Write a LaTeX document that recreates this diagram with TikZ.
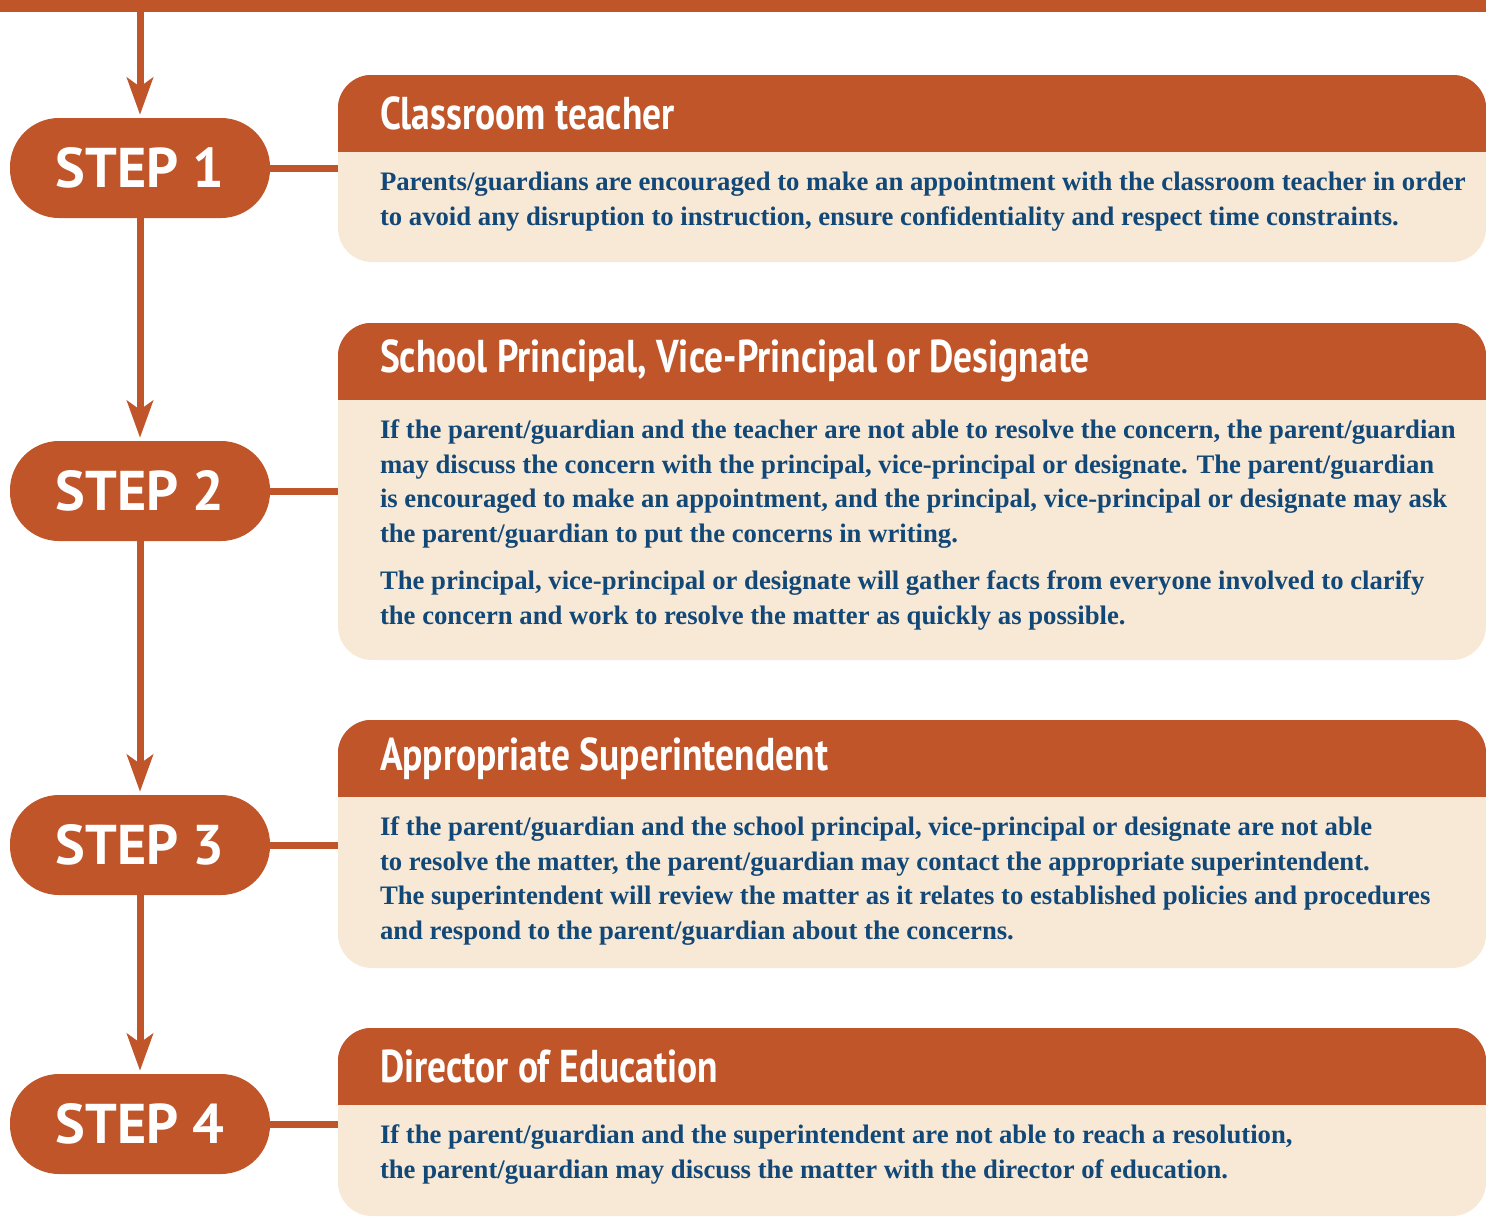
\documentclass[tikz,border=0pt]{standalone}
\usepackage{fontspec}
\setmainfont{Liberation Serif}
\newfontfamily\stepfont{PT Sans}
\newfontfamily\headfont[FakeStretch=0.815]{PT Sans}
\usetikzlibrary{arrows.meta}
\definecolor{rust}{RGB}{193,85,42}
\definecolor{cream}{RGB}{248,233,214}
\definecolor{ink}{RGB}{18,72,120}
\tikzset{
  stepbox/.style={fill=rust, text=white, rounded corners=49pt, minimum width=260pt,
    minimum height=100pt, inner sep=0pt, font=\stepfont\bfseries\fontsize{56}{56}\selectfont},
  panel/.style={fill=cream, rounded corners=34pt, minimum width=1148pt, inner sep=0pt},
  headtext/.style={anchor=west, text=white, inner sep=0pt,
    font=\headfont\bfseries\fontsize{46}{46}\selectfont},
  bodytext/.style={anchor=north west, text=ink, inner sep=0pt, align=left,
    font=\bfseries\fontsize{26.7}{34.5}\selectfont},
  flow/.style={draw=rust, line width=7pt},
  tip/.style={-{Stealth[length=37pt,width=26pt,inset=9pt]}, shorten >=3pt}
}
\begin{document}
\begin{tikzpicture}[x=1pt,y=-1pt]
\useasboundingbox (0,0) rectangle (1486,1216);
\fill[rust] (0,0) rectangle (1486,12);
\coordinate (top) at (140,12);
%
\node[stepbox] (s1) at (140,168) {STEP 1};
\node[stepbox] (s2) at (140,491) {STEP 2};
\node[stepbox] (s3) at (140,845) {STEP 3};
\node[stepbox] (s4) at (140,1124) {STEP 4};
%
\node[panel, minimum height=187pt] (b1) at (912,168.5) {};
\node[panel, minimum height=337pt] (b2) at (912,491.5) {};
\node[panel, minimum height=248pt] (b3) at (912,844) {};
\node[panel, minimum height=188pt] (b4) at (912,1122) {};
%
\foreach \b in {b1,b2,b3,b4} {
  \begin{scope}
    \clip[rounded corners=34pt] (\b.south west) rectangle (\b.north east);
    \fill[rust] (\b.north west) rectangle ([yshift=-77pt]\b.north east);
  \end{scope}
}
%
\node[headtext] (h1) at ([xshift=42pt,yshift=-38.5pt]b1.north west) {Classroom teacher};
\node[headtext] (h2) at ([xshift=42pt,yshift=-38.5pt]b2.north west) {School Principal, Vice-Principal or Designate};
\node[headtext] (h3) at ([xshift=42pt,yshift=-38.5pt]b3.north west) {Appropriate Superintendent};
\node[headtext] (h4) at ([xshift=42pt,yshift=-38.5pt]b4.north west) {Director of Education};
%
\node[bodytext] (t1) at ([xshift=42pt,yshift=-97pt]b1.north west) {Parents/guardians are encouraged to make an appointment with the classroom teacher in order\\
to avoid any disruption to instruction, ensure confidentiality and respect time constraints.};
\node[bodytext] (t2) at ([xshift=42pt,yshift=-97pt]b2.north west) {If the parent/guardian and the teacher are not able to resolve the concern, the parent/guardian\\
may discuss the concern with the principal, vice-principal or designate. The parent/guardian\\
is encouraged to make an appointment, and the principal, vice-principal or designate may ask\\
the parent/guardian to put the concerns in writing.\\[13pt]
The principal, vice-principal or designate will gather facts from everyone involved to clarify\\
the concern and work to resolve the matter as quickly as possible.};
\node[bodytext] (t3) at ([xshift=42pt,yshift=-97pt]b3.north west) {If the parent/guardian and the school principal, vice-principal or designate are not able\\
to resolve the matter, the parent/guardian may contact the appropriate superintendent.\\
The superintendent will review the matter as it relates to established policies and procedures\\
and respond to the parent/guardian about the concerns.};
\node[bodytext] (t4) at ([xshift=42pt,yshift=-97pt]b4.north west) {If the parent/guardian and the superintendent are not able to reach a resolution,\\
the parent/guardian may discuss the matter with the director of education.};
%
\draw[flow,tip] (top) -- (s1);
\draw[flow,tip] (s1) -- (s2);
\draw[flow,tip] (s2) -- (s3);
\draw[flow,tip] (s3) -- (s4);
%
\draw[flow] (s1.east) -- (b1.west |- s1.east);
\draw[flow] (s2.east) -- (b2.west |- s2.east);
\draw[flow] (s3.east) -- (b3.west |- s3.east);
\draw[flow] (s4.east) -- (b4.west |- s4.east);
\end{tikzpicture}
\end{document}
